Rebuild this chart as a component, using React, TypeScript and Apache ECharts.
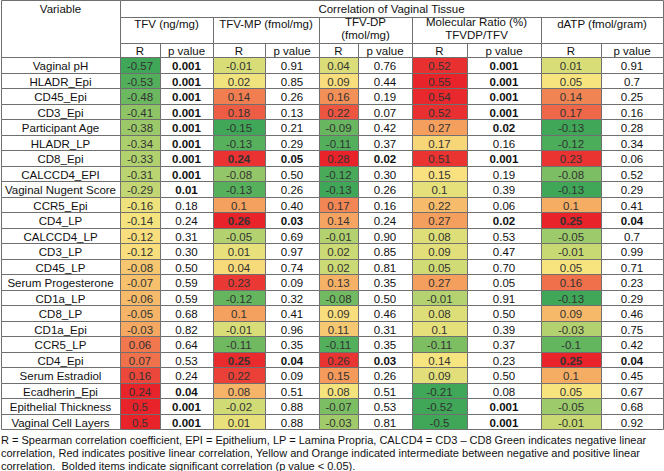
import React, { useEffect, useRef } from "react";
import * as echarts from "echarts";

// ---------- data ----------
const variables = [
  "Vaginal pH", "HLADR_Epi", "CD45_Epi", "CD3_Epi", "Participant Age", "HLADR_LP",
  "CD8_Epi", "CALCCD4_EPI", "Vaginal Nugent Score", "CCR5_Epi", "CD4_LP", "CALCCD4_LP",
  "CD3_LP", "CD45_LP", "Serum Progesterone", "CD1a_LP", "CD8_LP", "CD1a_Epi",
  "CCR5_LP", "CD4_Epi", "Serum Estradiol", "Ecadherin_Epi", "Epithelial Thickness", "Vaginal Cell Layers",
];

const tfvR = [-0.57, -0.53, -0.48, -0.41, -0.38, -0.34, -0.33, -0.31, -0.29, -0.16, -0.14, -0.12, -0.12, -0.08, -0.07, -0.06, -0.05, -0.03, 0.06, 0.07, 0.16, 0.24, 0.5, 0.5];
const tfvP = ["0.001", "0.001", "0.001", "0.001", "0.001", "0.001", "0.001", "0.001", "0.01", "0.18", "0.24", "0.31", "0.30", "0.50", "0.59", "0.59", "0.68", "0.82", "0.64", "0.53", "0.24", "0.04", "0.001", "0.001"];
const tfvSig = [1, 1, 1, 1, 1, 1, 1, 1, 1, 0, 0, 0, 0, 0, 0, 0, 0, 0, 0, 0, 0, 1, 1, 1];

const mpR = [-0.01, 0.02, 0.14, 0.18, -0.15, -0.13, 0.24, -0.08, -0.13, 0.1, 0.26, -0.05, 0.01, 0.04, 0.23, -0.12, 0.1, -0.01, -0.11, 0.25, 0.22, 0.08, -0.02, 0.01];
const mpP = ["0.91", "0.85", "0.26", "0.13", "0.21", "0.29", "0.05", "0.50", "0.26", "0.40", "0.03", "0.69", "0.97", "0.74", "0.09", "0.32", "0.41", "0.96", "0.35", "0.04", "0.09", "0.51", "0.88", "0.88"];
const mpSig = [0, 0, 0, 0, 0, 0, 1, 0, 0, 0, 1, 0, 0, 0, 0, 0, 0, 0, 0, 1, 0, 0, 0, 0];

const dpR = [0.04, 0.09, 0.16, 0.22, -0.09, -0.11, 0.28, -0.12, -0.13, 0.17, 0.14, -0.01, 0.02, 0.02, 0.13, -0.08, 0.09, 0.11, -0.11, 0.26, 0.15, 0.08, -0.07, -0.03];
const dpP = ["0.76", "0.44", "0.19", "0.07", "0.42", "0.37", "0.02", "0.30", "0.26", "0.16", "0.24", "0.90", "0.85", "0.81", "0.35", "0.50", "0.46", "0.31", "0.35", "0.03", "0.26", "0.51", "0.53", "0.81"];
const dpSig = [0, 0, 0, 0, 0, 0, 1, 0, 0, 0, 0, 0, 0, 0, 0, 0, 0, 0, 0, 1, 0, 0, 0, 0];

const molR = [0.52, 0.55, 0.54, 0.52, 0.27, 0.17, 0.51, 0.15, 0.1, 0.22, 0.27, 0.08, 0.09, 0.05, 0.27, -0.01, 0.08, 0.1, -0.11, 0.14, 0.09, -0.21, -0.52, -0.5];
const molP = ["0.001", "0.001", "0.001", "0.001", "0.02", "0.16", "0.001", "0.19", "0.39", "0.06", "0.02", "0.53", "0.47", "0.70", "0.05", "0.91", "0.50", "0.39", "0.37", "0.23", "0.50", "0.08", "0.001", "0.001"];
const molSig = [1, 1, 1, 1, 1, 0, 1, 0, 0, 0, 1, 0, 0, 0, 0, 0, 0, 0, 0, 0, 0, 0, 1, 1];

const datpR = [0.01, 0.05, 0.14, 0.17, -0.13, -0.12, 0.23, -0.08, -0.13, 0.1, 0.25, -0.05, -0.01, 0.05, 0.16, -0.13, 0.09, -0.03, -0.1, 0.25, 0.1, 0.05, -0.05, -0.01];
const datpP = ["0.91", "0.7", "0.25", "0.16", "0.28", "0.34", "0.06", "0.52", "0.29", "0.41", "0.04", "0.7", "0.99", "0.71", "0.23", "0.29", "0.46", "0.75", "0.42", "0.04", "0.45", "0.67", "0.68", "0.92"];
const datpSig = [0, 0, 0, 0, 0, 0, 0, 0, 0, 0, 1, 0, 0, 0, 0, 0, 0, 0, 0, 1, 0, 0, 0, 0];

const groupHeaders = [["TFV (ng/mg)"], ["TFV-MP (fmol/mg)"], ["TFV-DP", "(fmol/mg)"], ["Molecular Ratio (%)", "TFVDP/TFV"], ["dATP (fmol/gram)"]];
const boldR = [false, true, false, false, true];
const rSeries = [tfvR, mpR, dpR, molR, datpR];
const pSeries = [tfvP, mpP, dpP, molP, datpP];
const sigSeries = [tfvSig, mpSig, dpSig, molSig, datpSig];

const footerLines = [
  "R = Spearman correlation coefficient, EPI = Epithelium, LP = Lamina Propria, CALCD4 = CD3 \u2013 CD8 Green indicates negative linear",
  "correlation, Red indicates positive linear correlation, Yellow and Orange indicated intermediate between negative and positive linear",
  "correlation.  Bolded items indicate significant correlation (p value < 0.05).",
];

// ---------- layout ----------
const FONT = "'Liberation Sans', Arial, Helvetica, sans-serif";
const FS = 11.5;
const FOOT_FS = 11;
const LINE = "#6f6f6f";
const GRID_LEFT = 1;
const GRID_TOP = 57;
const ROW_H = 15.5;
const COL_EDGES = [0, 119, 159, 212, 264, 318, 357, 411, 466, 540, 600, 662];
const SCALE_ROWS = 22; // rows used for the column colour scale
const COLORS = ["#3FA757", "#88C265", "#C8D974", "#F8E47F", "#F49A5B", "#EC5A43", "#E8242A"];

function pctInc(sorted: number[], p: number) {
  const k = (sorted.length - 1) * p;
  const f = Math.floor(k);
  const c = Math.ceil(k);
  return sorted[f] + (sorted[c] - sorted[f]) * (k - f);
}

function normalize(values: number[]) {
  const s = values.slice(0, SCALE_ROWS).sort((a, b) => a - b);
  const min = s[0];
  const max = s[s.length - 1];
  const med = pctInc(s, 0.5);
  return values.map((v) => {
    const t = v < med ? -(med - v) / (med - min) : (v - med) / (max - med);
    return Math.max(-1, Math.min(1, t));
  });
}

export default function App() {
  const ref = useRef<HTMLDivElement>(null);

  useEffect(() => {
    document.body.style.margin = "0";
    const chart = echarts.init(ref.current!, null, { renderer: "svg" });

    const rData: number[][] = [];
    const pCells: { col: number; row: number; text: string; bold: boolean }[] = [];
    rSeries.forEach((vals, m) => {
      const ts = normalize(vals);
      vals.forEach((v, i) => {
        rData.push([1 + 2 * m, i, v, ts[i], boldR[m] && sigSeries[m][i] ? 1 : 0]);
        pCells.push({ col: 2 + 2 * m, row: i, text: pSeries[m][i], bold: !!sigSeries[m][i] });
      });
    });

    const cellRect = (api: any, col: number, row: number) => {
      const [x0, yc] = api.coord([COL_EDGES[col], row]);
      const [x1] = api.coord([COL_EDGES[col + 1], row]);
      const h = api.size([0, 1])[1];
      const top = Math.round(yc - h / 2) + 0.5;
      const bottom = Math.round(yc + h / 2) + 0.5;
      return { x: Math.round(x0) + 0.5, y: top, width: Math.round(x1) - Math.round(x0), height: bottom - top, xc: (x0 + x1) / 2, yc: (top + bottom) / 2 };
    };

    const cellGroup = (r: any, fill: string, text: string, bold: boolean, color: string) => ({
      type: "group",
      children: [
        { type: "rect", shape: { x: r.x, y: r.y, width: r.width, height: r.height }, style: { fill, stroke: LINE, lineWidth: 1 } },
        {
          type: "text",
          style: {
            text, x: r.xc, y: r.yc + 0.5, align: "center", verticalAlign: "middle",
            fontSize: FS, fontFamily: FONT, fontWeight: bold ? "bold" : "normal", fill: color,
          },
        },
      ],
    });

    const hdr: any[] = [];
    const hRect = (x0: number, y0: number, x1: number, y1: number) =>
      hdr.push({ type: "rect", shape: { x: x0 + 0.5, y: y0 + 0.5, width: x1 - x0, height: y1 - y0 }, style: { fill: "#fff", stroke: LINE, lineWidth: 1 } });
    const hText = (text: string, x: number, y: number, align = "center", fs = FS) =>
      hdr.push({ type: "text", style: { text, x, y, align, verticalAlign: "middle", fontSize: fs, fontFamily: FONT, fill: "#111" } });

    const E = COL_EDGES.map((e) => e + GRID_LEFT);
    hRect(E[0], 0, E[1], GRID_TOP);
    hRect(E[1], 0, E[11], 17);
    hText("Variable", (E[0] + E[1]) / 2, 9);
    hText("Correlation of Vaginal Tissue", (E[1] + E[11]) / 2, 9);
    groupHeaders.forEach((lines, m) => {
      const x0 = E[1 + 2 * m];
      const x1 = E[3 + 2 * m];
      hRect(x0, 17, x1, 43);
      if (lines.length === 1) hText(lines[0], (x0 + x1) / 2, 24);
      else lines.forEach((l, k) => hText(l, (x0 + x1) / 2, 22 + k * 13));
      hRect(x0, 43, E[2 + 2 * m], GRID_TOP);
      hRect(E[2 + 2 * m], 43, x1, GRID_TOP);
      hText("R", (x0 + E[2 + 2 * m]) / 2, 50.5);
      hText("p value", (E[2 + 2 * m] + x1) / 2, 50.5);
    });
    footerLines.forEach((l, k) => hText(l, 1, 440 + k * 13, "left", FOOT_FS));

    chart.setOption({
      animation: false,
      grid: { left: GRID_LEFT, top: GRID_TOP, width: 662, height: ROW_H * variables.length },
      xAxis: { type: "value", min: 0, max: 662, show: false },
      yAxis: { type: "category", data: variables, inverse: true, show: false },
      visualMap: {
        type: "continuous", show: false, seriesIndex: 1, dimension: 3, min: -1, max: 1,
        inRange: { color: COLORS },
      },
      graphic: hdr,
      series: [
        {
          type: "custom",
          name: "Variable",
          data: variables.map((_, i) => [0, i]),
          renderItem: (params: any, api: any) => {
            const r = cellRect(api, 0, api.value(1));
            return cellGroup(r, "#fff", variables[params.dataIndex], false, "#111");
          },
          silent: true,
          clip: false,
        },
        {
          type: "custom",
          name: "R",
          data: rData,
          renderItem: (_params: any, api: any) => {
            const r = cellRect(api, api.value(0), api.value(1));
            return cellGroup(r, api.visual("color"), String(api.value(2)), api.value(4) === 1, "#333");
          },
          silent: true,
          clip: false,
        },
        {
          type: "custom",
          name: "p value",
          data: pCells.map((c) => [c.col, c.row]),
          renderItem: (params: any, api: any) => {
            const c = pCells[params.dataIndex];
            const r = cellRect(api, c.col, c.row);
            return cellGroup(r, "#fff", c.text, c.bold, "#111");
          },
          silent: true,
          clip: false,
        },
      ],
    });

    return () => chart.dispose();
  }, []);

  return <div ref={ref} style={{ width: 664, height: 471 }} />;
}
